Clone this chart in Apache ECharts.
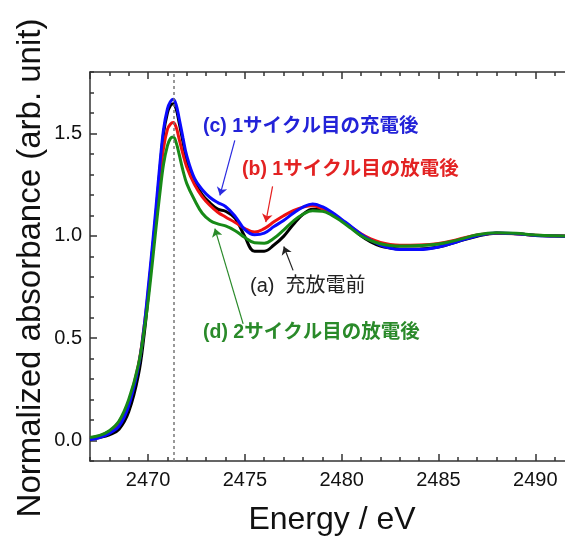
<!DOCTYPE html>
<html>
<head>
<meta charset="utf-8">
<script src="https://cdn.jsdelivr.net/npm/echarts@6/dist/echarts.min.js"></script>
<style>
  html, body { margin: 0; padding: 0; background: #fff; }
  #main { width: 565px; height: 539px; }
</style>
</head>
<body>
<div id="main"></div>
<script>
// energy grid (eV)
var energy = [2467, 2467.5, 2468, 2468.5, 2469, 2469.5, 2469.8, 2470, 2470.2, 2470.4, 2470.6, 2470.8,
  2471, 2471.15, 2471.3, 2471.45, 2471.6, 2471.8, 2472, 2472.4, 2472.8, 2473.2, 2473.6, 2474,
  2474.5, 2475, 2475.5, 2476, 2476.5, 2477, 2477.5, 2478, 2478.5, 2479, 2479.5, 2480, 2480.5,
  2481, 2481.5, 2482, 2482.5, 2483, 2484, 2485, 2486, 2487, 2488, 2489, 2490, 2491, 2492];

// (a) before charge/discharge
var absA = [0.008, 0.015, 0.028, 0.055, 0.14, 0.32, 0.52, 0.70, 0.90, 1.10, 1.31, 1.50,
  1.60, 1.635, 1.645, 1.62, 1.555, 1.46, 1.365, 1.265, 1.20, 1.16, 1.13, 1.12,
  1.085, 0.995, 0.925, 0.925, 0.955, 0.997, 1.055, 1.105, 1.13, 1.128, 1.107, 1.075, 1.04,
  1.0, 0.97, 0.95, 0.94, 0.935, 0.935, 0.945, 0.972, 0.998, 1.012, 1.01, 1.002, 0.999, 0.998];
// (b) after 1st discharge
var absB = [0.012, 0.022, 0.045, 0.09, 0.19, 0.37, 0.56, 0.72, 0.90, 1.08, 1.27, 1.43,
  1.52, 1.545, 1.553, 1.53, 1.475, 1.40, 1.335, 1.25, 1.19, 1.148, 1.115, 1.092,
  1.065, 1.035, 1.018, 1.035, 1.068, 1.098, 1.123, 1.14, 1.147, 1.132, 1.107, 1.076, 1.042,
  1.01, 0.985, 0.968, 0.958, 0.954, 0.955, 0.962, 0.982, 1.004, 1.013, 1.01, 1.003, 1.0, 0.999];
// (c) after 1st charge
var absC = [0.005, 0.015, 0.035, 0.07, 0.17, 0.36, 0.56, 0.74, 0.93, 1.13, 1.34, 1.52,
  1.62, 1.655, 1.667, 1.64, 1.575, 1.48, 1.39, 1.28, 1.225, 1.187, 1.162, 1.143,
  1.095, 1.03, 1.005, 1.013, 1.045, 1.075, 1.11, 1.14, 1.155, 1.142, 1.115, 1.08, 1.045,
  1.008, 0.978, 0.955, 0.94, 0.933, 0.933, 0.945, 0.972, 1.0, 1.014, 1.01, 1.002, 0.999, 0.998];
// (d) after 2nd discharge
var absD = [0.015, 0.025, 0.048, 0.095, 0.20, 0.37, 0.54, 0.68, 0.85, 1.03, 1.20, 1.35,
  1.44, 1.475, 1.482, 1.455, 1.40, 1.32, 1.255, 1.175, 1.11, 1.075, 1.058, 1.048,
  1.025, 0.992, 0.966, 0.964, 0.988, 1.028, 1.072, 1.105, 1.122, 1.12, 1.10, 1.07, 1.035,
  1.0, 0.976, 0.961, 0.953, 0.95, 0.952, 0.96, 0.98, 1.005, 1.015, 1.012, 1.004, 1.0, 0.999];

var peakEnergy = 2471.33;
// annotation arrows: [start E, start v, tip E, tip v]
var arrowA = [2477.49, 0.831, 2477.01, 0.948];
var arrowB = [2476.43, 1.241, 2476.08, 1.067];
var arrowC = [2474.48, 1.466, 2473.71, 1.197];
var arrowD = [2474.91, 0.570, 2473.45, 1.035];

var labelA = '(a)  充放電前';
var labelB = '(b) 1サイクル目の放電後';
var labelC = '(c) 1サイクル目の充電後';
var labelD = '(d) 2サイクル目の放電後';

var xMin = 2467, xMax = 2492, yMin = -0.1, yMax = 1.8;

function pairs(vals) {
  return energy.map(function (e, i) { return [e, vals[i]]; });
}

var axisColor = '#333';
var font = "'Liberation Sans', Arial, 'Noto Sans CJK JP', sans-serif";

function xAx(pos, major) {
  var ax = {
    type: 'value', min: xMin, max: xMax, position: pos,
    axisLine: { show: major, onZero: false, lineStyle: { color: axisColor, width: 1.5 } },
    axisTick: { inside: true, length: major ? 7 : 4, lineStyle: { color: axisColor, width: 1.5 } },
    axisLabel: { show: false },
    splitLine: { show: false }
  };
  if (major) { ax.minInterval = 5; ax.maxInterval = 5; } else { ax.interval = 1; }
  if (major && pos === 'bottom') {
    ax.axisLabel = {
      show: true, margin: 9, fontSize: 20, color: '#111', fontFamily: font,
      showMinLabel: false, showMaxLabel: false,
      formatter: function (v) { return (Math.abs(v % 5) < 1e-6) ? String(v) : ''; }
    };
  }
  return ax;
}

function yAx(major) {
  var ax = {
    type: 'value', min: yMin, max: yMax, position: 'left',
    axisLine: { show: major, onZero: false, lineStyle: { color: axisColor, width: 1.5 } },
    axisTick: { inside: true, length: major ? 7 : 4, lineStyle: { color: axisColor, width: 1.5 } },
    axisLabel: { show: false },
    splitLine: { show: false }
  };
  if (major) {
    ax.minInterval = 0.5; ax.maxInterval = 0.5;
    ax.axisLabel = {
      show: true, margin: 8, fontSize: 20, color: '#111', fontFamily: font,
      showMinLabel: false, showMaxLabel: false,
      formatter: function (v) {
        var r = Math.round(v * 10);
        return (r >= 0 && r % 5 === 0) ? (r / 10).toFixed(1) : '';
      }
    };
  } else {
    ax.interval = 0.1;
  }
  return ax;
}

function arrowLine(a, color) {
  return {
    silent: true, animation: false,
    symbol: ['none', 'arrow'], symbolSize: 8,
    label: { show: false },
    lineStyle: { color: color, width: 1.2, type: 'solid' },
    emphasis: { disabled: true },
    data: [[{ coord: [a[0], a[1]] }, { coord: [a[2], a[3]] }]]
  };
}

function curve(name, vals, color, extraMark) {
  var s = {
    name: name, type: 'line', xAxisIndex: 0, yAxisIndex: 0,
    data: pairs(vals), showSymbol: false, smooth: 0.4,
    lineStyle: { color: color, width: 3 }, itemStyle: { color: color },
    clip: true
  };
  if (extraMark) s.markLine = extraMark;
  return s;
}

var myChart = echarts.init(document.getElementById('main'));

var blackMark = arrowLine(arrowA, '#222');
blackMark.data.push([
  { coord: [peakEnergy, yMin], lineStyle: { color: '#777', width: 1.5, type: [3, 3] }, symbol: 'none' },
  { coord: [peakEnergy, yMax], symbol: 'none' }
]);

function label(text, x, y, size, color, weight) {
  return {
    type: 'text', x: x, y: y, silent: true,
    style: { text: text, fontSize: size, fontWeight: weight, fontFamily: font, fill: color,
      align: 'left', verticalAlign: 'middle', textAlign: 'left', textVerticalAlign: 'middle' }
  };
}

var option = {
  backgroundColor: '#fff',
  animation: false,
  grid: { left: 90, top: 72, width: 484, height: 389, containLabel: false, outerBoundsMode: 'none' },
  xAxis: [xAx('bottom', true), xAx('bottom', false), xAx('top', true), xAx('top', false)],
  yAxis: [yAx(true), yAx(false)],
  series: [
    curve('(a)', absA, '#000', blackMark),
    curve('(b)', absB, '#ee1111', arrowLine(arrowB, '#e52020')),
    curve('(c)', absC, '#0a0aff', arrowLine(arrowC, '#2a2ae0')),
    curve('(d)', absD, '#178a17', arrowLine(arrowD, '#2a8a2a'))
  ],
  graphic: [
    { type: 'text', x: 31, y: 268, rotation: Math.PI / 2, silent: true,
      style: { text: 'Normalized absorbance (arb. unit)', fontSize: 33, fontFamily: font, fill: '#111',
        align: 'center', verticalAlign: 'middle', textAlign: 'center', textVerticalAlign: 'middle' } },
    { type: 'text', x: 332, y: 520, silent: true,
      style: { text: 'Energy / eV', fontSize: 32, fontFamily: font, fill: '#111',
        align: 'center', verticalAlign: 'middle', textAlign: 'center', textVerticalAlign: 'middle' } },
    label(labelC, 203, 127, 19.5, '#2323d8', 'bold'),
    label(labelB, 242, 170, 19.5, '#e32222', 'bold'),
    label(labelA, 250, 286, 20, '#222', 'normal'),
    label(labelD, 203, 333, 19.5, '#2a8a2a', 'bold')
  ]
};
myChart.setOption(option);
</script>
</body>
</html>
